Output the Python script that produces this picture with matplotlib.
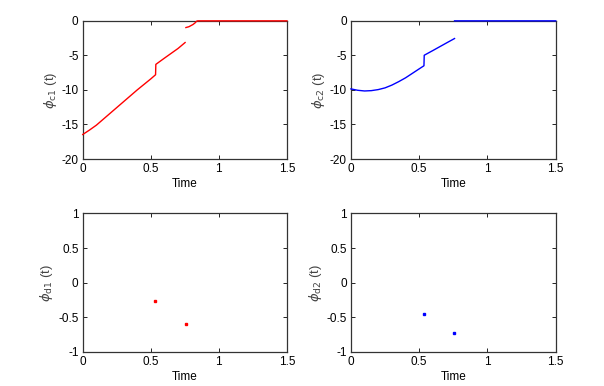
import matplotlib.pyplot as plt
import numpy as np

plt.rcParams['font.family'] = ['Liberation Sans', 'DejaVu Sans']
plt.rcParams['mathtext.fontset'] = 'dejavusans'

# phi_c1(t): red, NaN separates the pieces
t_c1 = [0, 0.05, 0.1, 0.15, 0.2, 0.25, 0.3, 0.35, 0.4, 0.45, 0.5, 0.535,
        0.537, 0.6, 0.7, 0.752, np.nan,
        0.758, 0.78, 0.81, 0.825, 0.837, 0.845, 1.0, 1.5]
y_c1 = [-16.45, -15.8, -15.1, -14.25, -13.4, -12.55, -11.7, -10.85, -10.0, -9.2, -8.4, -7.8,
        -6.3, -5.4, -4.0, -3.14, np.nan,
        -0.97, -0.85, -0.53, -0.3, -0.05, 0.0, 0.0, 0.0]

# phi_c2(t): blue
t_c2 = [0, 0.05, 0.1, 0.15, 0.2, 0.25, 0.3, 0.35, 0.4, 0.45, 0.5, 0.535,
        0.537, 0.6, 0.7, 0.759, np.nan,
        0.759, 1.0, 1.5]
y_c2 = [-9.85, -10.05, -10.15, -10.1, -9.95, -9.7, -9.3, -8.8, -8.25, -7.6, -6.95, -6.5,
        -4.98, -4.3, -3.2, -2.56, np.nan,
        0.0, 0.0, 0.0]

# phi_d1, phi_d2: isolated points
t_d1 = [0.532, 0.757]
y_d1 = [-0.26, -0.6]
t_d2 = [0.537, 0.756]
y_d2 = [-0.46, -0.73]


def style_axes(ax, ylim, yticks, ylabel):
    ax.set_xlim(0, 1.5)
    ax.set_ylim(*ylim)
    ax.set_xticks([0, 0.5, 1, 1.5])
    ax.set_xticklabels(['0', '0.5', '1', '1.5'])
    ax.set_yticks(yticks)
    ax.set_yticklabels([f"{v:g}" for v in yticks])
    ax.tick_params(direction='in', top=True, right=True, length=3,
                   width=0.6, labelsize=8.5, pad=3)
    for s in ax.spines.values():
        s.set_linewidth(0.9)
        s.set_color('#333333')
    ax.set_xlabel('Time', fontsize=8.5, labelpad=2)
    ax.set_ylabel(ylabel, fontsize=9.5, labelpad=2, color='#444444')


fig = plt.figure(figsize=(6.04, 3.86), dpi=100)
ax1 = fig.add_axes([0.137, 0.588, 0.338, 0.358])
ax2 = fig.add_axes([0.581, 0.588, 0.339, 0.358])
ax3 = fig.add_axes([0.137, 0.089, 0.338, 0.358])
ax4 = fig.add_axes([0.581, 0.089, 0.339, 0.358])

ax1.plot(t_c1, y_c1, color='red', linewidth=1.0, clip_on=False, zorder=3)
ax2.plot(t_c2, y_c2, color='blue', linewidth=1.0, clip_on=False, zorder=3)
ax3.plot(t_d1, y_d1, 's', color='red', markersize=1.5)
ax4.plot(t_d2, y_d2, 's', color='blue', markersize=1.5)

ytop = [-20, -15, -10, -5, 0]
ybot = [-1, -0.5, 0, 0.5, 1]
style_axes(ax1, (-20, 0), ytop, r'$\phi_{\mathrm{c1}}$ (t)')
style_axes(ax2, (-20, 0), ytop, r'$\phi_{\mathrm{c2}}$ (t)')
style_axes(ax3, (-1, 1), ybot, r'$\phi_{\mathrm{d1}}$ (t)')
style_axes(ax4, (-1, 1), ybot, r'$\phi_{\mathrm{d2}}$ (t)')

fig.savefig('out.png', dpi=100)
